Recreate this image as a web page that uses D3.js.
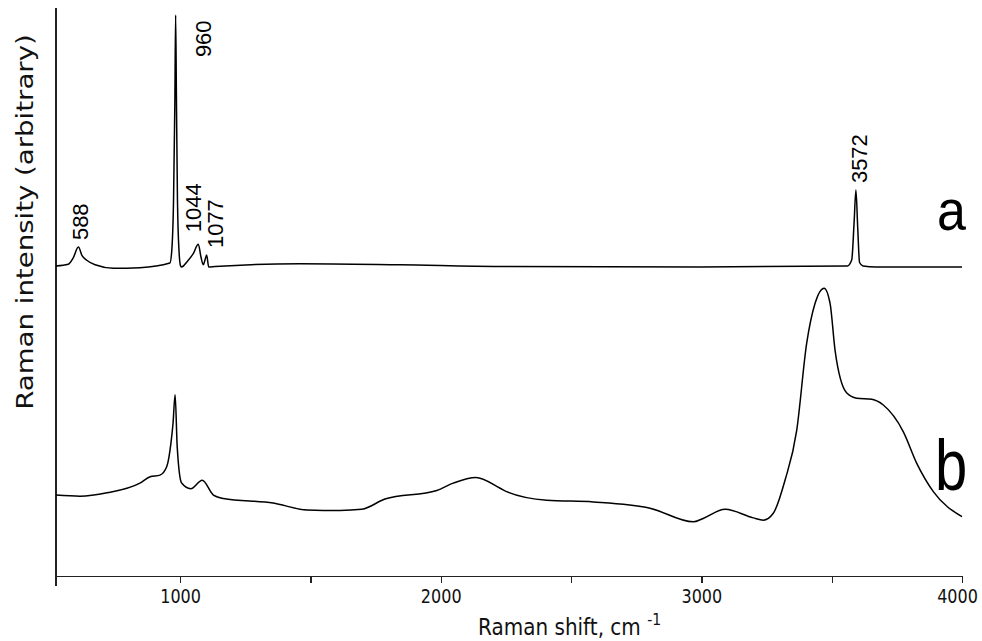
<!DOCTYPE html>
<html lang="en">
<head>
<meta charset="utf-8">
<title>Raman spectra a and b</title>
<script src="https://cdn.jsdelivr.net/npm/d3@7"></script>
<style>
  body { margin: 0; background: #fff; }
  .axis path, .axis line { stroke: #222; stroke-width: 1.3; shape-rendering: crispEdges; }
  .axis text { font-family: "DejaVu Sans", Verdana, sans-serif; font-size: 16px; fill: #111; }
  .spec { fill: none; stroke: #000; stroke-width: 1.5; stroke-linejoin: round; }
  .peak { font-family: "Liberation Sans", Arial, sans-serif; font-size: 22px; fill: #000; }
  .tag { font-family: "Liberation Sans", Arial, sans-serif; fill: #000; }
  .title { font-family: "DejaVu Sans", Verdana, sans-serif; fill: #111; }
</style>
</head>
<body>
<script>
// spectrum a (upper trace)
var specA_shift = [524, 571, 590, 610, 624, 642, 674, 744, 846, 961, 968, 975, 980, 983, 986, 990, 996, 1002, 1006,
                   1026, 1050, 1070, 1080, 1089, 1096, 1102, 1110, 1134, 1460, 1844, 2228, 2995,
                   3560, 3577, 3586, 3593, 3600, 3607, 3620, 3670, 4000];
var specA_int   = [54.4, 54.7, 55.8, 57.7, 56.2, 55.4, 54.6, 54.0, 54.1, 54.9, 57.0, 66.0, 83.0, 98.4, 84.0, 66.0, 57.0, 54.4, 54.2,
                   55.1, 56.5, 58.2, 56.0, 54.6, 55.5, 56.3, 54.2, 54.3, 54.8, 54.6, 54.3, 54.2,
                   54.4, 55.5, 62.0, 67.7, 61.0, 55.0, 54.4, 54.2, 54.2];

// spectrum b (lower trace)
var specB_shift = [524, 616, 720, 846, 885, 923, 949, 965, 973, 981, 989, 1006, 1041, 1085, 1128, 1166, 1357, 1486,
                   1614, 1697, 1786, 1985, 2048, 2135, 2228, 2253, 2407, 2585, 2803, 2969, 3007, 3091, 3199,
                   3238, 3276, 3321, 3366, 3404, 3436, 3471, 3494, 3513, 3558, 3596, 3654, 3698, 3775, 3826, 3890, 4000];
var specB_int   = [14.2, 14.0, 14.6, 16.3, 17.4, 17.7, 19.2, 23.3, 26.8, 31.8, 22.7, 16.3, 15.3, 16.8, 14.2, 13.6, 12.8, 11.6,
                   11.5, 11.7, 13.5, 15.0, 16.3, 17.3, 15.4, 14.8, 13.3, 13.0, 11.9, 9.5, 10.1, 11.7, 10.2,
                   9.8, 11.0, 16.8, 25.6, 40.8, 47.8, 50.5, 47.8, 39.6, 32.1, 31.2, 31.0, 30.0, 25.3, 19.8, 14.8, 10.4];

// peak annotations on spectrum a
var peakText  = ["588", "960", "1044", "1077", "3572"];
var peakShift = [610, 983, 1070, 1102, 3593];
var peakInt   = [57.7, 98.4, 58.2, 56.3, 67.7];

var xTicks = [1000, 1500, 2000, 2500, 3000, 3500, 4000];
var xTickLabels = ["1000", "", "2000", "", "3000", "", "4000"];
var traceNames = ["a", "b"];

var w = 982, h = 641;
var stretch = 1.2;   // text in the original is a bit taller than wide

var xScale = d3.scaleLinear().domain([524, 4000]).range([56, 962]);
var yScale = d3.scaleLinear().domain([0, 100]).range([576, 6]);

var svg = d3.select("body").append("svg").attr("width", w).attr("height", h);
svg.append("rect").attr("width", w).attr("height", h).attr("fill", "#fff");

// x axis
var xAxis = d3.axisBottom(xScale).tickValues(xTicks).tickSizeInner(7).tickSizeOuter(0)
    .tickFormat(function(d, i) { return xTickLabels[i]; });
var gx = svg.append("g").attr("class", "axis")
    .attr("transform", "translate(0," + yScale(0) + ")")
    .call(xAxis);
gx.selectAll("text").attr("y", 0).attr("dy", 0)
    .attr("transform", function(d, i) {
        var dx = (i === xTicks.length - 1) ? -5 : 0;   // last label sits a bit left, as in the original
        return "translate(" + dx + ",27) scale(1," + stretch + ")";
    });

// y axis: a bare line, no ticks
svg.append("line").attr("class", "axis")
    .attr("x1", xScale(524)).attr("x2", xScale(524))
    .attr("y1", yScale(0) + 10).attr("y2", 8)
    .attr("stroke", "#222").attr("stroke-width", 1.3).attr("shape-rendering", "crispEdges");

// spectra
var line = d3.line()
    .x(function(d) { return xScale(d[0]); })
    .y(function(d) { return yScale(d[1]); })
    .curve(d3.curveMonotoneX);

var dataA = specA_shift.map(function(s, i) { return [s, specA_int[i]]; });
var dataB = specB_shift.map(function(s, i) { return [s, specB_int[i]]; });

svg.append("path").datum(dataA).attr("class", "spec").attr("stroke-width", 1.4).attr("d", line);
svg.append("path").datum(dataB).attr("class", "spec").attr("d", line);

// peak labels, rotated
var labelNudge = [[10, -7], [35, 42], [3, -12], [16, -7], [11, -7]];
svg.selectAll(".peak").data(peakText).enter().append("text")
    .attr("class", "peak")
    .attr("transform", function(d, i) {
        var px = xScale(peakShift[i]) + labelNudge[i][0];
        var py = yScale(peakInt[i]) + labelNudge[i][1];
        return "translate(" + px + "," + py + ") rotate(-90)";
    })
    .text(function(d) { return d; });

// trace tags
var tagPos = [[937, 230, 52, 1.1], [935, 490, 58, 1.25]];
svg.selectAll(".tag").data(traceNames).enter().append("text")
    .attr("class", "tag")
    .attr("font-size", function(d, i) { return tagPos[i][2] + "px"; })
    .attr("transform", function(d, i) {
        return "translate(" + tagPos[i][0] + "," + tagPos[i][1] + ") scale(1," + tagPos[i][3] + ")";
    })
    .text(function(d) { return d; });

// axis titles
var xt = svg.append("text").attr("class", "title")
    .attr("transform", "translate(478,635) scale(1,1.15)")
    .attr("font-size", "20px");
xt.append("tspan").text("Raman shift, cm ");
xt.append("tspan").attr("font-size", "14px").attr("dy", -9).text("-1");

svg.append("text").attr("class", "title")
    .attr("transform", "translate(33,222) scale(1," + stretch + ") rotate(-90)")
    .attr("text-anchor", "middle")
    .attr("font-size", "23px")
    .text("Raman  intensity (arbitrary)");
</script>
</body>
</html>
